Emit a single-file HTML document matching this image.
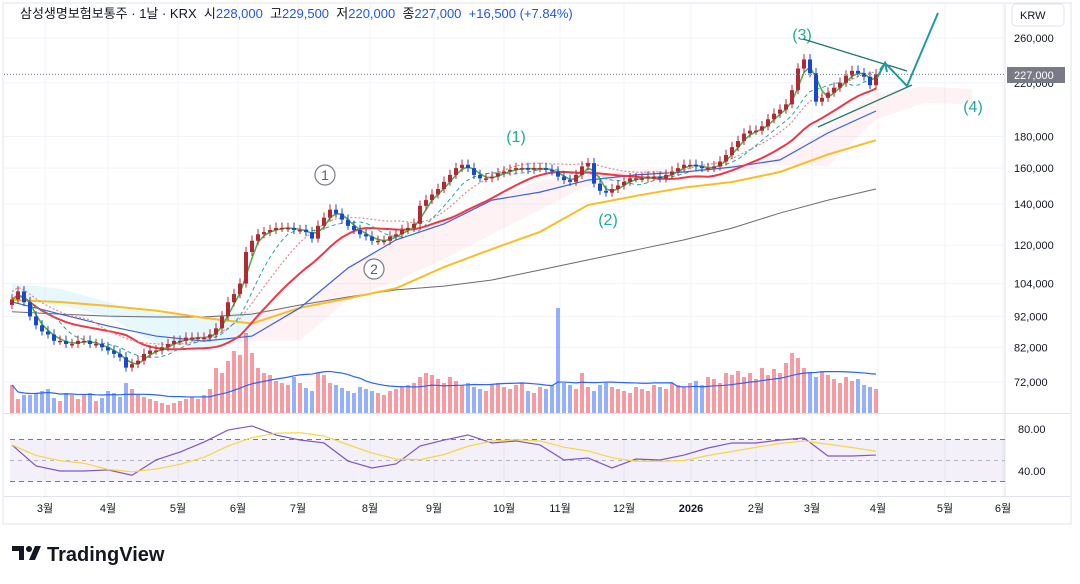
<!DOCTYPE html>
<html><head><meta charset="utf-8">
<style>
body{margin:0;background:#fff;width:1080px;height:584px;overflow:hidden;font-family:"Liberation Sans","Noto Sans CJK KR",sans-serif;}
svg{position:absolute;left:0;top:0}
</style></head>
<body>
<svg id="c" width="1080" height="584" xmlns="http://www.w3.org/2000/svg"></svg>
<script>
// closes (KRW thousands), one bar per step
const closes=[98,101,97,92,89,87,86,84,84,83,83,84,84,83,83,82,81,80,79,76,77,78,80,81,81,82,83,84,84,85,85,85,85,86,88,92,97,100,104,117,122,125,126,127,128,128,128,127,127,126,123,129,133,137,135,132,129,127,125,124,122,122,122,124,125,127,128,130,139,142,145,148,152,156,160,162,160,156,154,154,155,157,158,159,160,160,159,160,160,159,158,155,153,152,156,161,163,151,147,146,148,150,152,154,154,154,155,155,154,156,158,160,162,162,161,160,160,161,164,168,173,177,182,184,184,187,192,196,199,203,214,232,240,228,205,208,212,216,220,226,230,228,225,218,227];
const volumes=[28,14,18,18,20,22,24,15,12,20,18,14,18,20,12,15,22,20,16,30,24,18,16,14,12,10,8,10,12,14,16,14,18,24,45,40,52,62,58,80,60,45,40,38,32,30,28,36,30,25,22,40,38,30,28,25,22,20,26,24,22,20,18,22,24,26,28,30,36,40,38,34,30,36,32,28,30,26,24,22,28,30,26,24,28,30,22,20,26,24,28,105,30,28,24,40,26,22,28,30,26,24,22,20,26,24,22,28,26,24,30,28,26,30,32,28,36,34,30,40,38,42,36,40,34,45,38,44,40,50,60,55,45,40,36,42,38,34,30,36,32,34,28,26,24];
// long MAs sampled every 8 bars
const ma60=[97.1,92.8,88.8,85.5,83.9,85.5,95,110.2,122.4,129.9,142,146.3,153,156,157.7,160.6,165,182.5,198];
const ma120=[97.8,97.1,95.7,94,91.5,89.6,95,98.4,102.2,110.6,118.3,126.1,139.4,144.3,148.8,151.9,157.7,168.4,177.6];
const ma240=[93.6,92.8,92.1,91.8,91.8,92.8,96,98.9,101.6,103,105.4,109.4,113.6,117.9,122.4,127.9,135.3,142,148];
const cloudTop=[104,102,97,93,92,94,95,110,122,133,142,153,156,159,160,162,168,186,212,217,215];
const cloudBot=[98,96,92,83,82,84,84,98,105,114,125,137,150,155,157,158,162,161,192,204,203];
// RSI sampled every 4 bars
const rsiVals=[64.8,44.8,40,40,41,36,50.5,58,67.6,79,82.9,74.3,69.5,66.7,49.5,42.9,46.7,63.8,69.5,74.3,66.7,68.6,64.8,50.5,52.4,42.9,51.4,50.5,55.2,61.9,66.7,66.7,69.5,71.4,54.3,54.3,55.2];
const priceTicks=[260,220,180,160,140,120,104,92,82,72];
const months=["3월","4월","5월","6월","7월","8월","9월","10월","11월","12월","2026","2월","3월","4월","5월","6월"];
const monthX=[45,108,178,238,298,370,434,504,560,624,691,756,812,878,945,1003];

const svg=document.getElementById('c');
const NS='http://www.w3.org/2000/svg';
function mk(t,a,p){const e=document.createElementNS(NS,t);for(const k in a)e.setAttribute(k,a[k]);(p||svg).appendChild(e);return e;}
const xS=i=>12+6*i;
const yS=p=>38+268*Math.log(260/p);
const yV=v=>413-v;
const yR=r=>471-(r-40)*1.05;
const fmt=n=>n.toLocaleString('en-US');

let e=mk('rect',{x:3,y:3,width:1068,height:521,fill:'none',stroke:'#e0e3eb'});

const grid=mk('g',{});
priceTicks.forEach(p=>mk('line',{x1:4,x2:1005,y1:yS(p),y2:yS(p),stroke:'#f0f3fa'},grid));
monthX.forEach(x=>{mk('line',{x1:x,x2:x,y1:4,y2:496,stroke:'#f0f3fa'},grid);});
mk('line',{x1:1005,x2:1005,y1:4,y2:496,stroke:'#e0e3eb'});
mk('line',{x1:4,x2:1071,y1:413.5,y2:413.5,stroke:'#e0e3eb'});
mk('line',{x1:4,x2:1071,y1:496.5,y2:496.5,stroke:'#e0e3eb'});

const cg=mk('g',{});
for(let k=0;k<cloudTop.length-1;k++){
  const x1=xS(k*8),x2=xS((k+1)*8);
  const pts=`${x1},${yS(cloudTop[k])} ${x2},${yS(cloudTop[k+1])} ${x2},${yS(cloudBot[k+1])} ${x1},${yS(cloudBot[k])}`;
  mk('polygon',{points:pts,fill:k<5?'rgba(100,210,235,0.16)':'rgba(245,150,170,0.12)'},cg);
}

e=mk('rect',{x:10,y:yR(70),width:995,height:yR(30)-yR(70),fill:'rgba(126,87,194,0.09)'});

[70,30].forEach(v=>mk('line',{x1:10,x2:1005,y1:yR(v),y2:yR(v),stroke:'#787b86','stroke-dasharray':'5,4'}));
mk('line',{x1:10,x2:1005,y1:yR(50),y2:yR(50),stroke:'#b2b5be','stroke-dasharray':'4,4'});

const opens=closes.map((c,i)=>i?closes[i-1]:c*0.98);
const vg=mk('g',{});
volumes.forEach((v,i)=>{const up=closes[i]>=opens[i];
  const r=mk('rect',{x:xS(i)-2,y:yV(v),width:4,height:v,fill:up?'rgba(242,54,69,0.5)':'rgba(41,98,255,0.5)'},vg);
  });
function sma(arr,n){return arr.map((_,i)=>{const s=arr.slice(Math.max(0,i-n+1),i+1);return s.reduce((a,b)=>a+b,0)/s.length;});}
const vma=sma(volumes,20);
e=mk('polyline',{points:vma.map((v,i)=>xS(i)+','+yV(v)).join(' '),fill:'none',stroke:'#2962ff','stroke-width':1.2});


function line(vals,fx,style,name){const l=mk('polyline',Object.assign({points:vals.map((v,i)=>fx(i)+','+yS(v)).join(' '),fill:'none'},style));
  }
line(ma240,k=>xS(k*8),{stroke:'#6b6b6b','stroke-width':1},'ma240-line');
line(ma120,k=>xS(k*8),{stroke:'#fbbc24','stroke-width':2},'ma120-line');
line(ma60,k=>xS(k*8),{stroke:'#3a62e0','stroke-width':1.2},'ma60-line');
line(sma(closes,20),xS,{stroke:'#f23645','stroke-width':2},'ma20-line');
line(sma(closes,14).map(v=>v*1.03),xS,{stroke:'#e8868f','stroke-width':1.2,'stroke-dasharray':'2,2'},'ma-dotted-line');
line(sma(closes,8),xS,{stroke:'#26a69a','stroke-width':1,'stroke-dasharray':'4,3'},'ma10-line');
line(sma(closes,3),xS,{stroke:'#4caf50','stroke-width':1.6},'ma5-line');

const kg=mk('g',{});
closes.forEach((c,i)=>{const o=opens[i],up=c>=o,col=up?'#b22833':'#1848cc';
  const hi=Math.max(o,c)*1.02,lo=Math.min(o,c)*0.985;
  const g=mk('g',{},kg);
  mk('line',{x1:xS(i),x2:xS(i),y1:yS(hi),y2:yS(lo),stroke:col},g);
  const t=yS(Math.max(o,c)),b=yS(Math.min(o,c));
  mk('rect',{x:xS(i)-2,y:t,width:4,height:Math.max(1.5,b-t),fill:col},g);});

// RSI
const xR=k=>12+24*k;
e=mk('polyline',{points:rsiVals.map((v,k)=>xR(k)+','+yR(v)).join(' '),fill:'none',stroke:'#7e57c2','stroke-width':1.2});

e=mk('polyline',{points:sma(rsiVals,4).map((v,k)=>xR(k)+','+yR(v)).join(' '),fill:'none',stroke:'#f5d742','stroke-width':1.2});


const last=closes[closes.length-1];
mk('line',{x1:4,x2:1005,y1:yS(last),y2:yS(last),stroke:'#787b86','stroke-dasharray':'1,2'});

const ag2=mk('g',{});
[[325,175,'1'],[374,269,'2']].forEach(a=>{mk('circle',{cx:a[0],cy:a[1],r:10,fill:'#fff',stroke:'#787b86','stroke-width':1.2},ag2);
  const t=mk('text',{x:a[0],y:a[1]+5,'text-anchor':'middle','font-size':14,fill:'#5d606b'},ag2);t.textContent=a[2];});
[[516,142,'(1)'],[608,225,'(2)'],[802,40,'(3)'],[973,112,'(4)']].forEach(a=>{const t=mk('text',{x:a[0],y:a[1],'text-anchor':'middle','font-size':16,fill:'#22ab94'},ag2);t.textContent=a[2];});
mk('line',{x1:803,y1:39,x2:907,y2:71,stroke:'#1b7a6a','stroke-width':1.3},ag2);
mk('line',{x1:818,y1:127,x2:912,y2:85,stroke:'#1b7a6a','stroke-width':1.3},ag2);
mk('polyline',{points:'877,78 885,63 907,86 938,13',fill:'none',stroke:'#1e9ba0','stroke-width':2},ag2);
mk('polyline',{points:'880,70 885,63 887,72',fill:'none',stroke:'#1e9ba0','stroke-width':2},ag2);

const ax=mk('g',{'font-size':11,fill:'#131722'});
priceTicks.forEach(p=>{const t=mk('text',{x:1014,y:yS(p)+4},ax);t.textContent=fmt(p*1000);});
[[80,429],[40,471]].forEach(a=>{const t=mk('text',{x:1018,y:a[1]+4},ax);t.textContent=a[0].toFixed(2);});
const tx=mk('g',{'font-size':11,fill:'#131722','text-anchor':'middle'});
months.forEach((m,i)=>{const t=mk('text',{x:monthX[i],y:512,'font-weight':m=='2026'?'bold':'normal'},tx);t.textContent=m;});
e=mk('rect',{x:1007,y:67,width:58,height:16,fill:'#787b86'});
let t=mk('text',{x:1014,y:79,'font-size':11,fill:'#fff'});t.textContent='227,000';
e=mk('rect',{x:1012,y:4,width:52,height:22,rx:4,fill:'#fff',stroke:'#e0e3eb'});
t=mk('text',{x:1020,y:19,'font-size':11,fill:'#131722'});t.textContent='KRW';

const h=mk('text',{x:20,y:18,'font-size':13,fill:'#131722'});
h.innerHTML='삼성생명보험보통주 · 1날 · KRX  시<tspan fill="#2157e0">228,000</tspan>  고<tspan fill="#2157e0">229,500</tspan>  저<tspan fill="#2157e0">220,000</tspan>  종<tspan fill="#2157e0">227,000</tspan>  <tspan fill="#2157e0">+16,500 (+7.84%)</tspan>';
h.setAttribute('xml:space','preserve');h.style.whiteSpace='pre';

const lg=mk('g',{});
mk('path',{d:'M12 546h12v14h-5v-9h-7z',fill:'#131722'},lg);
mk('circle',{cx:29,cy:549,r:3,fill:'#131722'},lg);
mk('path',{d:'M35 546h6l-6 14h-6z',fill:'#131722'},lg);
t=mk('text',{x:47,y:561,'font-size':20,'font-weight':'bold',fill:'#131722'},lg);t.textContent='TradingView';
</script>
</body></html>
